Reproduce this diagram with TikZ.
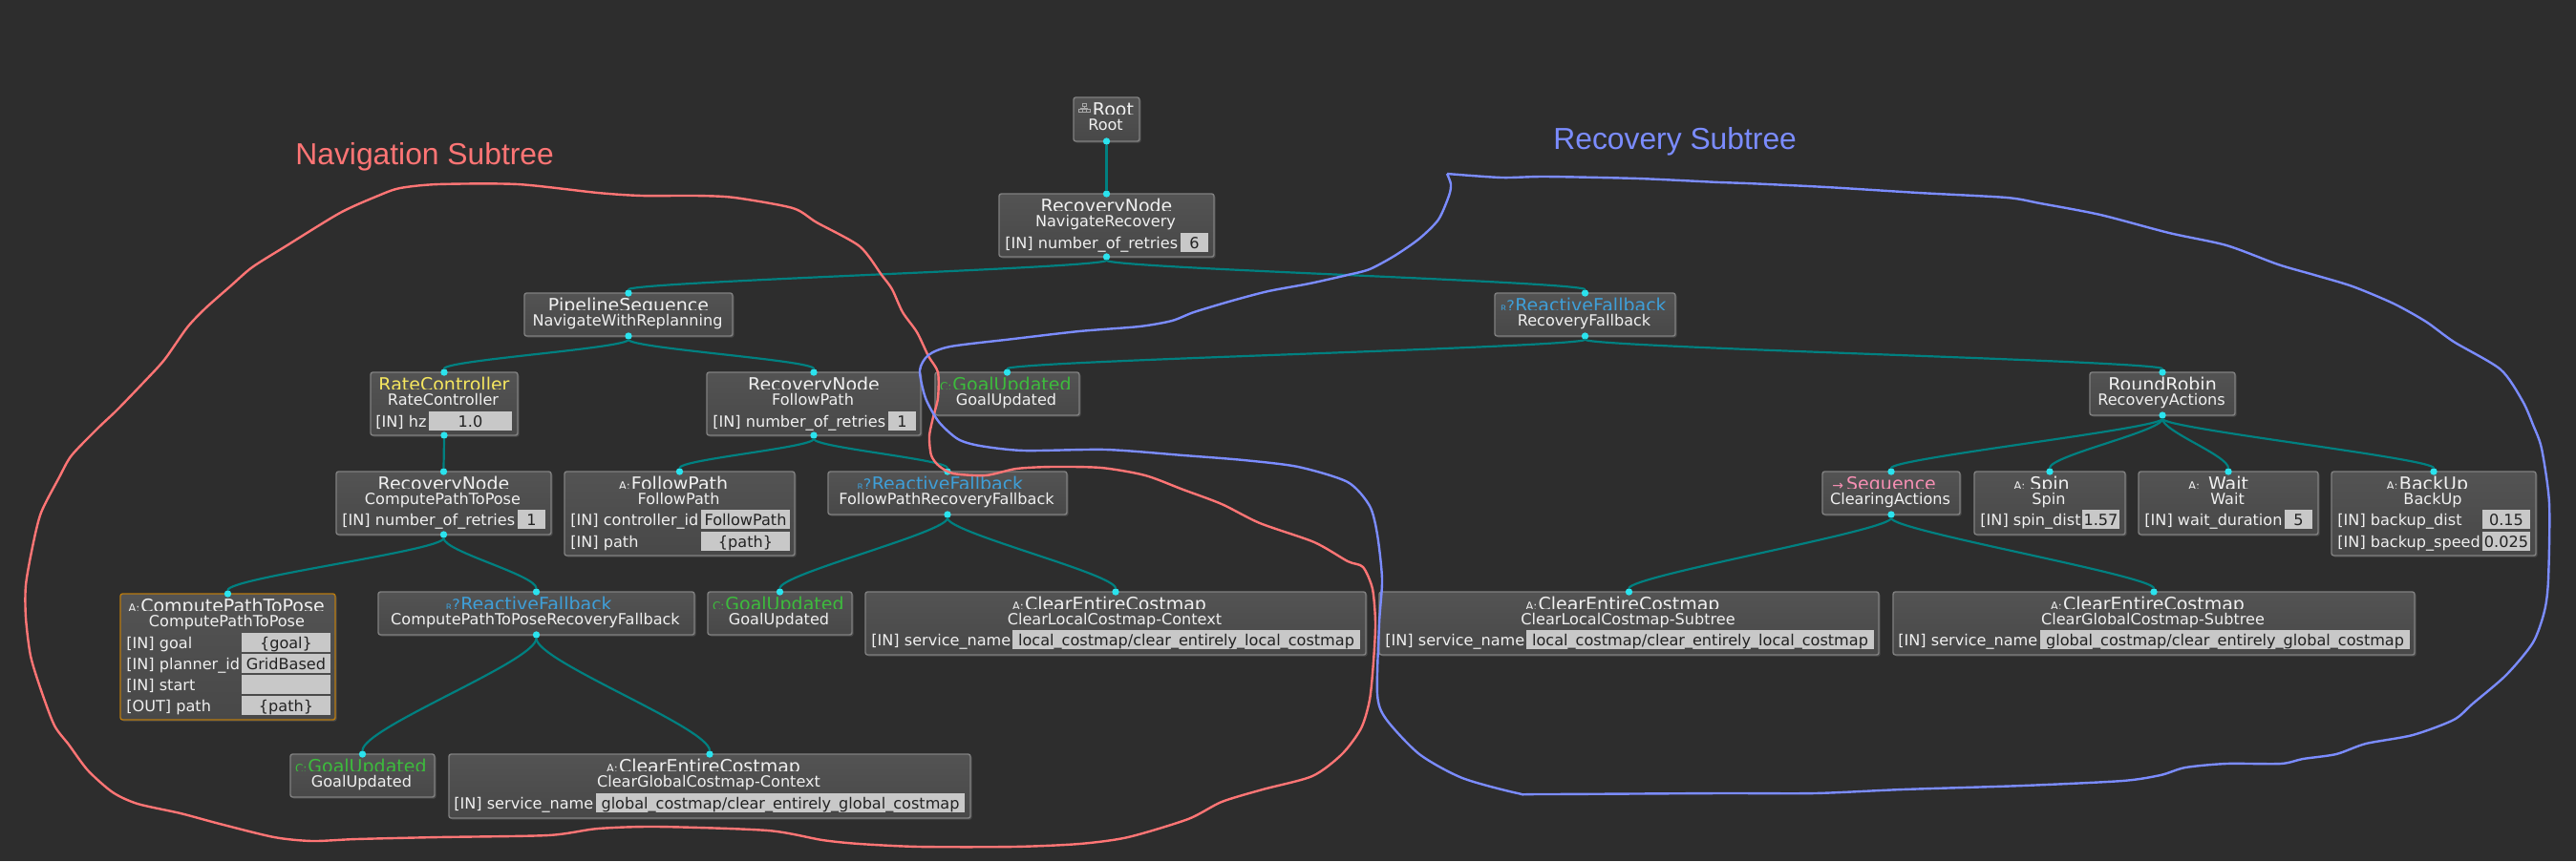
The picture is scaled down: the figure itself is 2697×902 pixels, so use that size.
\documentclass[tikz,border=0pt]{standalone}
\usepackage{fontspec}
\setmainfont{DejaVu Sans}
\newfontfamily\labelfont{Liberation Sans}
\usetikzlibrary{shadows}

\definecolor{canvas}{HTML}{2D2D2D}
\definecolor{boxtop}{HTML}{535353}
\definecolor{boxbottom}{HTML}{484848}
\definecolor{boxline}{HTML}{808080}
\definecolor{boxorange}{HTML}{B87A10}
\definecolor{portcyan}{HTML}{2BE3EE}
\definecolor{edgeteal}{HTML}{008080}
\definecolor{valuegray}{HTML}{C8C8C8}
\definecolor{valuetext}{HTML}{222222}
\definecolor{textwhite}{HTML}{F0F0F0}
\definecolor{navred}{HTML}{FF7575}
\definecolor{recblue}{HTML}{7B8CFF}
\definecolor{condgreen}{HTML}{3DBB3D}
\definecolor{fallblue}{HTML}{3F9FD8}
\definecolor{rateyellow}{HTML}{F5E65F}
\definecolor{seqpink}{HTML}{F58FB3}

\tikzset{
  btbox/.style={draw=boxline,line width=0.7pt,top color=boxtop,bottom color=boxbottom,
    rounded corners=1.2pt,inner sep=0pt,outer sep=0pt,
    drop shadow={shadow xshift=0.8pt,shadow yshift=-0.8pt,opacity=0.35}},
  bttitle/.style={anchor=base,inner sep=0pt,text=textwhite,font=\fontsize{9.5}{11}\selectfont},
  btinst/.style={anchor=base,inner sep=0pt,text=textwhite,font=\fontsize{8.05}{10}\selectfont},
  btlabel/.style={anchor=base west,inner sep=0pt,text=textwhite,font=\fontsize{8.05}{10}\selectfont},
  btvalue/.style={fill=valuegray,inner sep=0pt,outer sep=0pt,text=valuetext,text depth=0pt,
    font=\fontsize{8.05}{10}\selectfont},
  port/.style={circle,fill=portcyan,inner sep=0pt,outer sep=0pt,minimum size=3.7pt},
  treeedge/.style={draw=edgeteal,line width=1.1pt},
  navcurve/.style={draw=navred,line width=1.2pt},
  reccurve/.style={draw=recblue,line width=1.2pt},
  subtreelabel/.style={anchor=base west,inner sep=0pt,font=\labelfont\fontsize{15.9}{18}\selectfont},
}

% name, left, top, right, bottom, title, instance
\newcommand{\btnode}[8][]{
  \node[btbox,minimum width={(#5-#3)*0.5pt},minimum height={(#6-#4)*0.5pt}] (#2) at ({(#3+#5)/2},{(#4+#6)/2}) {};
  \begin{scope}
    \clip (#3,#4) rectangle (#5,{#4+17.5});
    \node[bttitle,#1] (#2-title) at ({(#3+#5)/2},{#4+19}) {#7};
  \end{scope}
  \node[btinst] (#2-inst) at ({(#3+#5)/2-1},{#4+34}) {#8};
}
% name, label x, value left, value right, value top, label, value
\newcommand{\btparam}[7]{
  \node[btlabel] (#1-label) at (#2,{#5+16}) {#6};
  \node[btvalue,minimum width={(#4-#3)*0.5pt},minimum height=10.2pt] (#1-value) at ({(#3+#4)/2},{#5+10.2}) {#7};
}
\newcommand{\iconA}[1]{\llap{\fontsize{6}{7}\selectfont A:\kern#1}}
\newcommand{\iconC}{\llap{\fontsize{6}{7}\selectfont C:\kern0.5pt}}
\newcommand{\iconR}{\llap{\fontsize{4.5}{5}\selectfont R\fontsize{8}{9}\selectfont ?\kern0.3pt}}
\newcommand{\iconS}{\llap{\fontsize{7}{8}\selectfont →\kern1.5pt}}

\begin{document}
\begin{tikzpicture}[x=0.5pt,y=-0.5pt]
  \path[fill=canvas] (0,0) rectangle (2697,902);

  \node[subtreelabel,text=navred] (navlabel) at (309,172) {Navigation Subtree};
  \node[subtreelabel,text=recblue] (reclabel) at (1626,156) {Recovery Subtree};

  % main tree
  \btnode[xshift=3.5pt]{root}{1124}{102}{1193}{148}{Root}{Root}
  \btnode{nav}{1046}{203}{1271}{269}{RecoveryNode}{NavigateRecovery}
  \btparam{nav-retries}{1052}{1236}{1265}{244}{[IN] number\_of\_retries}{6}
  \btnode{pipe}{549}{307}{767}{352}{PipelineSequence}{NavigateWithReplanning}
  \btnode[text=fallblue,xshift=3pt]{recfb}{1565}{307}{1754}{352}{\iconR ReactiveFallback}{RecoveryFallback}

  % navigation side
  \btnode[text=rateyellow]{rate}{388}{390}{542}{456}{RateController}{RateController}
  \btparam{rate-hz}{393}{449}{536}{431}{[IN] hz}{1.0}
  \btnode{fpath}{740}{390}{964}{456}{RecoveryNode}{FollowPath}
  \btparam{fpath-retries}{746}{930}{959}{431}{[IN] number\_of\_retries}{1}
  \btnode[text=condgreen,xshift=2.5pt]{gua}{979}{390}{1130}{435}{\iconC GoalUpdated}{GoalUpdated}
  \btnode{cptprec}{352}{494}{577}{560}{RecoveryNode}{ComputePathToPose}
  \btparam{cptprec-retries}{358}{542}{571}{534}{[IN] number\_of\_retries}{1}
  \btnode{fpact}{591}{494}{832}{582}{\iconA{0.5pt}FollowPath}{FollowPath}
  \btparam{fpact-id}{597}{734}{827}{534}{[IN] controller\_id}{FollowPath}
  \btparam{fpact-path}{597}{734}{827}{557}{[IN] path}{\{path\}}
  \btnode[text=fallblue]{fprf}{867}{494}{1117}{539}{\iconR ReactiveFallback}{FollowPathRecoveryFallback}
  \begin{scope}[btbox/.append style={draw=boxorange}]
    \btnode[xshift=2.5pt]{cptpact}{126}{622}{351}{754}{\iconA{0.5pt}ComputePathToPose}{ComputePathToPose}
  \end{scope}
  \btparam{cptpact-goal}{132}{253}{346}{663}{[IN] goal}{\{goal\}}
  \btparam{cptpact-planner}{132}{253}{346}{685}{[IN] planner\_id}{GridBased}
  \btparam{cptpact-start}{132}{253}{346}{707}{[IN] start}{}
  \btparam{cptpact-path}{132}{253}{346}{729}{[OUT] path}{\{path\}}
  \btnode[text=fallblue]{cptpfb}{396}{620}{727}{665}{\iconR ReactiveFallback}{ComputePathToPoseRecoveryFallback}
  \btnode[text=condgreen,xshift=2.5pt]{gub}{741}{620}{892}{665}{\iconC GoalUpdated}{GoalUpdated}
  \btnode{clc}{906}{620}{1430}{686}{\iconA{0.5pt}ClearEntireCostmap}{ClearLocalCostmap-Context}
  \btparam{clc-service}{912}{1060}{1424}{660}{[IN] service\_name}{local\_costmap/clear\_entirely\_local\_costmap}
  \btnode[text=condgreen,xshift=2.5pt]{guc}{304}{790}{455}{835}{\iconC GoalUpdated}{GoalUpdated}
  \btnode{cgc}{470}{790}{1016}{857}{\iconA{0.5pt}ClearEntireCostmap}{ClearGlobalCostmap-Context}
  \btparam{cgc-service}{475}{624}{1010}{831}{[IN] service\_name}{global\_costmap/clear\_entirely\_global\_costmap}

  % recovery side
  \btnode{rr}{2188}{390}{2340}{435}{RoundRobin}{RecoveryActions}
  \btnode[text=seqpink]{seq}{1908}{494}{2052}{539}{\iconS Sequence}{ClearingActions}
  \btnode{spin}{2067}{494}{2225}{560}{\iconA{2.5pt}Spin}{Spin}
  \btparam{spin-dist}{2073}{2180}{2219}{534}{[IN] spin\_dist}{1.57}
  \btnode{wait}{2239}{494}{2427}{560}{\iconA{4.5pt}Wait}{Wait}
  \btparam{wait-dur}{2245}{2392}{2421}{534}{[IN] wait\_duration}{5}
  \btnode{backup}{2441}{494}{2655}{582}{\iconA{0.7pt}BackUp}{BackUp}
  \btparam{backup-dist}{2447}{2599}{2649}{534}{[IN] backup\_dist}{0.15}
  \btparam{backup-speed}{2447}{2599}{2649}{557}{[IN] backup\_speed}{0.025}
  \btnode{cls}{1444}{620}{1967}{686}{\iconA{0.5pt}ClearEntireCostmap}{ClearLocalCostmap-Subtree}
  \btparam{cls-service}{1450}{1598}{1962}{660}{[IN] service\_name}{local\_costmap/clear\_entirely\_local\_costmap}
  \btnode{cgs}{1982}{620}{2528}{686}{\iconA{0.5pt}ClearEntireCostmap}{ClearGlobalCostmap-Subtree}
  \btparam{cgs-service}{1987}{2136}{2523}{660}{[IN] service\_name}{global\_costmap/clear\_entirely\_global\_costmap}

  % small tree icon of the root
  \draw[textwhite!70!black,line width=0.3pt] (1133,108) rectangle (1137,111)
    (1135,111) -- (1135,113) (1131,113) -- (1139,113)
    (1129,114) rectangle (1133,117) (1133,114) rectangle (1137,117) (1137,114) rectangle (1141,117);

  % ports and edges
  \foreach \n in {nav,pipe,recfb,rate,fpath,gua,cptprec,fpact,fprf,cptpact,cptpfb,gub,clc,guc,cgc,rr,seq,spin,wait,backup,cls,cgs}
    \node[port] (\n-in) at (\n.north) {};
  \foreach \n in {root,nav,pipe,recfb,rate,fpath,cptprec,fprf,cptpfb,rr,seq}
    \node[port] (\n-out) at (\n.south) {};
  \foreach \a/\b/\k in {root/nav/0,nav/pipe/8,nav/recfb/8,pipe/rate/9,pipe/fpath/9,rate/cptprec/0,fpath/fpact/9,fpath/fprf/9,
      cptprec/cptpact/13,cptprec/cptpfb/14,fprf/gub/15,fprf/clc/15,cptpfb/guc/24,cptpfb/cgc/24,recfb/gua/8,recfb/rr/8,
      rr/seq/10,rr/spin/13,rr/wait/13,rr/backup/10,seq/cls/13,seq/cgs/13}
    \draw[treeedge] (\a-out.south) .. controls +(0,\k) and +(0,-\k) .. (\b-in.north);

  % hand drawn outlines
  \draw[navcurve] plot[smooth cycle,tension=0.45] coordinates {
    (62,500) (75,477) (103,448) (122,430) (149,402) (172,377) (196,343) (215,323) (241,300) (264,280)
    (299,258) (356,223) (396,205) (419,197) (459,193) (542,193) (626,202) (672,205) (729,205) (769,207)
    (830,218) (855,233) (900,258) (923,288) (934,303) (945,327) (960,348) (972,373) (982,390) (982,417)
    (977,437) (973,457) (975,477) (983,488) (998,496) (1032,498) (1064,491) (1101,489) (1153,490) (1199,498)
    (1239,513) (1279,528) (1319,548) (1376,568) (1411,588) (1427,594) (1437,617) (1440,653) (1438,693)
    (1434,733) (1425,763) (1405,790) (1374,813) (1322,827) (1279,840) (1244,858) (1181,877) (1130,884)
    (1061,887) (963,887) (900,884) (861,880) (804,870) (689,866) (626,868) (574,875) (459,877) (373,879)
    (327,881) (287,877) (230,863) (189,852) (144,842) (118,830) (92,807) (72,780) (57,760) (43,723)
    (32,687) (27,647) (27,613) (34,573) (43,537)};
  \draw[reccurve] plot[smooth,tension=0.45] coordinates {
    (1515,182) (1519,193) (1517,205) (1506,230) (1486,250) (1460,268) (1434,282) (1411,288) (1371,297)
    (1328,305) (1290,315) (1250,327) (1227,336) (1193,342) (1130,347) (1061,355) (995,363) (972,372)
    (963,388) (969,417) (983,442) (1003,460) (1026,467) (1072,472) (1158,471) (1239,477) (1302,482)
    (1359,489) (1411,505) (1434,530) (1442,560) (1447,607) (1444,653) (1442,727) (1451,753) (1486,790)
    (1531,815) (1589,831) (1612,832) (1800,831) (1900,831) (1992,827) (2118,823) (2222,818) (2262,812)
    (2288,804) (2331,800) (2388,800) (2411,795) (2446,790) (2477,779) (2526,770) (2569,754) (2589,737)
    (2624,707) (2652,673) (2664,640) (2668,607) (2669,527) (2661,470) (2652,445) (2641,420) (2618,387)
    (2569,358) (2540,337) (2506,318) (2463,300) (2423,288) (2385,277) (2331,257) (2271,244) (2199,225)
    (2136,213) (2101,207) (2009,202) (1912,196) (1829,192) (1800,191) (1715,187) (1618,185) (1572,186)
    (1515,182)};
\end{tikzpicture}
\end{document}
